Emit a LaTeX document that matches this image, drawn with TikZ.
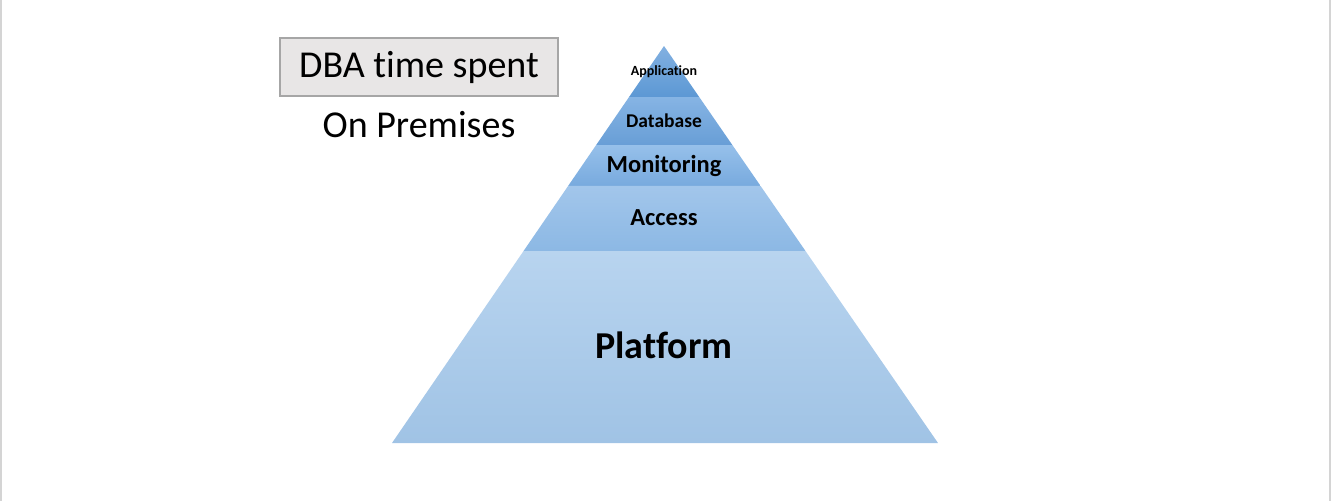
\documentclass[tikz,border=0pt]{standalone}
\usepackage{fontspec}
\setmainfont{Carlito}[Ligatures=NoCommon]
\usepackage{tikz}
\usetikzlibrary{calc, positioning}
\definecolor{dbagray}{RGB}{232,230,230}
\definecolor{dbaedge}{RGB}{166,166,166}
\definecolor{pageedge}{RGB}{212,212,212}
\definecolor{appT}{RGB}{130,176,225}
\definecolor{appB}{RGB}{92,152,212}
\definecolor{dbT}{RGB}{134,180,228}
\definecolor{dbB}{RGB}{104,158,214}
\definecolor{monT}{RGB}{150,192,234}
\definecolor{monB}{RGB}{120,170,222}
\definecolor{accT}{RGB}{162,198,235}
\definecolor{accB}{RGB}{140,184,228}
\definecolor{platT}{RGB}{184,212,239}
\definecolor{platB}{RGB}{160,195,229}
\tikzset{
  layer/.style 2 args={top color=#1, bottom color=#2, draw=none},
  tierlabel/.style={anchor=base, inner sep=0pt, font=\bfseries\fontsize{#1}{#1}\selectfont},
  dbabox/.style={rectangle, draw=dbaedge, line width=2.2pt, fill=dbagray,
                 minimum width=278pt, minimum height=58pt, inner sep=0pt,
                 font=\fontsize{38}{40}\selectfont},
}

\begin{document}
\begin{tikzpicture}[x=1pt, y=-1pt]
  \useasboundingbox (0,0) rectangle (1332,501);
  \draw[pageedge, line width=1.5pt] (1,0) -- (1,501);
  \draw[pageedge, line width=2.5pt] (1330,0) -- (1330,501);

  % pyramid outline
  \coordinate (apex) at (664,46);
  \coordinate (bl) at (392,443);
  \coordinate (br) at (938,443);
  \coordinate (l1) at ($(apex)!0.1285!(bl)$);
  \coordinate (r1) at ($(apex)!0.1285!(br)$);
  \coordinate (l2) at ($(apex)!0.2494!(bl)$);
  \coordinate (r2) at ($(apex)!0.2494!(br)$);
  \coordinate (l3) at ($(apex)!0.3526!(bl)$);
  \coordinate (r3) at ($(apex)!0.3526!(br)$);
  \coordinate (l4) at ($(apex)!0.5164!(bl)$);
  \coordinate (r4) at ($(apex)!0.5164!(br)$);

  \path[layer={appT}{appB}] (apex) -- (r1) -- (l1) -- cycle;
  \path[layer={dbT}{dbB}] (l1) -- (r1) -- (r2) -- (l2) -- cycle;
  \path[layer={monT}{monB}] (l2) -- (r2) -- (r3) -- (l3) -- cycle;
  \path[layer={accT}{accB}] (l3) -- (r3) -- (r4) -- (l4) -- cycle;
  \path[layer={platT}{platB}] (l4) -- (r4) -- (br) -- (bl) -- cycle;

  \node[tierlabel=14] (app) at (664,75) {Application};
  \node[tierlabel=19.5] (db) at (664,127) {Database};
  \node[tierlabel=24.5] (mon) at (664,172) {Monitoring};
  \node[tierlabel=24.5] (acc) at (664,225) {Access};
  \node[tierlabel=38] (plat) at (664,358) {Platform};

  % caption box
  \node[dbabox] (dba) at (419,67) {DBA time spent};
  \node[anchor=base, inner sep=0pt, font=\fontsize{38}{40}\selectfont] (prem) at (419,137) {On Premises};
\end{tikzpicture}
\end{document}
